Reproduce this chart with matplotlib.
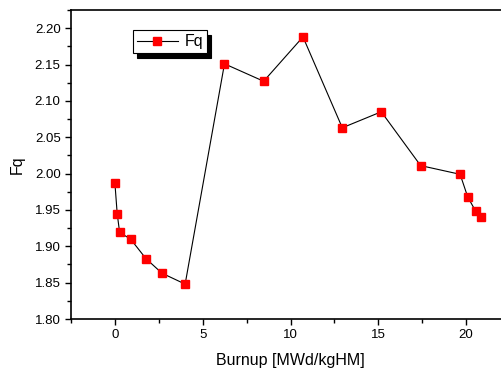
import matplotlib
matplotlib.use("Agg")
import matplotlib.pyplot as plt
from matplotlib.ticker import MultipleLocator

plt.rcParams['font.family'] = ['Liberation Sans', 'DejaVu Sans']

# burnup [MWd/kgHM] and Fq values
burnup = [0.0, 0.13, 0.27, 0.89, 1.77, 2.68, 4.0, 6.24, 8.47, 10.71,
          12.95, 15.17, 17.41, 19.66, 20.09, 20.55, 20.83]
fq = [1.987, 1.945, 1.919, 1.910, 1.883, 1.863, 1.848, 2.151, 2.127, 2.188,
      2.063, 2.085, 2.011, 1.999, 1.968, 1.948, 1.940]

fig = plt.figure(figsize=(5.02, 3.71), dpi=100)
ax = fig.add_axes([71/502, 52/371, 439/502, 309/371])

ax.plot(burnup, fq, color='black', lw=0.8, marker='s', ms=6,
        mfc='red', mec='red', label='Fq')

ax.set_xlim(-2.5, 22.5)
ax.set_ylim(1.80, 2.225)
ax.xaxis.set_major_locator(MultipleLocator(5))
ax.xaxis.set_minor_locator(MultipleLocator(2.5))
ax.yaxis.set_major_locator(MultipleLocator(0.05))
ax.yaxis.set_minor_locator(MultipleLocator(0.025))
ax.yaxis.set_major_formatter(plt.FormatStrFormatter('%.2f'))

ax.tick_params(which='both', direction='out', labelsize=9.5, width=1)
ax.tick_params(which='major', length=4.5, pad=3)
ax.tick_params(which='minor', length=3)
for spine in ax.spines.values():
    spine.set_linewidth(1.2)
ax.spines['right'].set_visible(False)

ax.set_xlabel('Burnup [MWd/kgHM]', fontsize=11.5, labelpad=8)
ax.set_ylabel('Fq', fontsize=11.5, labelpad=7)

leg = ax.legend(loc='upper left', bbox_to_anchor=(0.1405, 0.934), borderaxespad=0,
                fontsize=11.5, handlelength=2.6, handletextpad=0.4,
                borderpad=0.25, fancybox=False, framealpha=1,
                shadow={'color': 'black', 'alpha': 1, 'ox': 3, 'oy': -3})
leg.get_frame().set_edgecolor('black')
leg.get_frame().set_linewidth(0.8)

fig.savefig('out.png', dpi=100)
